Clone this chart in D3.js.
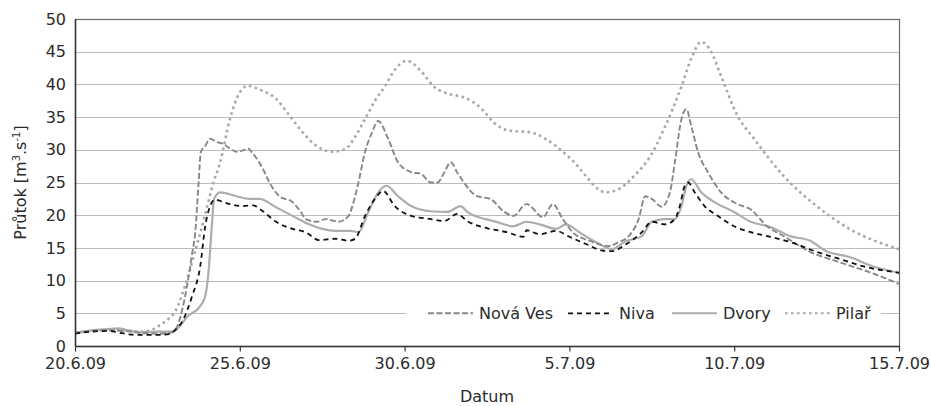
<!DOCTYPE html>
<html>
<head>
<meta charset="utf-8">
<script src="https://cdn.jsdelivr.net/npm/d3@7"></script>
<style>
    body { margin: 0; background: #fff; }
    text { font-family: "DejaVu Sans", sans-serif; fill: #2b2b2b; }
    .grid line { stroke: #bdbdbd; stroke-width: 1; }
</style>
</head>
<body>
<script>
(function(){

    //x tick labels (day offsets from 20.6.09)
    var tickDays = [0, 5, 10, 15, 20, 25];
    var tickLabels = ["20.6.09", "25.6.09", "30.6.09", "5.7.09", "10.7.09", "15.7.09"];
    var yTicks = [0, 5, 10, 15, 20, 25, 30, 35, 40, 45, 50];

    //series: [day offset, discharge m3/s]
    var novaVes = [[0,2.0],[0.5,2.3],[1.0,2.4],[1.5,2.3],[2.0,2.0],[2.5,1.9],[2.9,2.0],[3.1,3.0],[3.25,5.5],[3.4,9.2],[3.55,14.0],[3.65,17.5],[3.75,25],[3.82,29.7],[3.95,30.6],[4.1,31.7],[4.3,31.2],[4.5,30.9],[4.7,30.2],[4.9,29.7],[5.1,29.9],[5.25,30.2],[5.4,29.4],[5.7,27.1],[5.9,25.0],[6.2,22.9],[6.6,22.0],[6.85,20.5],[7.0,19.4],[7.35,19.0],[7.6,19.4],[8.0,19.0],[8.3,19.9],[8.45,22],[8.6,25],[8.8,29.7],[9.0,32.5],[9.2,34.4],[9.5,31.7],[9.8,28.1],[10.2,26.6],[10.5,26.3],[10.8,25.0],[11.0,25.0],[11.2,26.5],[11.4,28.1],[11.6,26.5],[11.8,25.0],[12.2,22.9],[12.6,22.5],[13.0,20.6],[13.3,19.9],[13.7,21.7],[14.2,19.7],[14.5,21.7],[14.8,19.4],[15.1,17.4],[15.6,16.1],[16.2,15.3],[16.5,15.9],[16.8,16.8],[17.1,19.4],[17.3,22.9],[17.5,22.5],[17.8,21.3],[18.05,23.5],[18.2,28.1],[18.4,34.7],[18.55,36.2],[18.7,33.6],[18.9,29.7],[19.2,26.6],[19.6,23.5],[20.1,21.7],[20.5,20.9],[21.0,18.3],[21.5,16.8],[22.3,14.4],[23.2,12.8],[24.1,11.3],[25,9.5]];
    var niva = [[0,1.9],[0.5,2.2],[1.0,2.3],[1.3,2.1],[1.6,1.8],[2.0,1.7],[2.5,1.7],[2.9,1.9],[3.05,2.5],[3.25,3.7],[3.55,7.6],[3.8,12.2],[3.95,18.3],[4.1,21.4],[4.25,22.4],[4.5,22.0],[4.7,21.7],[5.1,21.4],[5.4,21.5],[5.7,20.6],[6.1,19.0],[6.6,17.9],[7.0,17.4],[7.4,16.2],[7.9,16.4],[8.3,16.1],[8.5,16.4],[8.8,19.9],[9.1,22.5],[9.35,23.7],[9.7,21.4],[10.2,19.9],[10.8,19.4],[11.2,19.1],[11.6,20.2],[11.9,19.1],[12.35,18.2],[12.6,17.9],[13.1,17.4],[13.6,16.7],[13.7,17.7],[14.1,17.1],[14.6,17.6],[15.0,16.7],[15.5,15.6],[16.0,14.6],[16.3,14.5],[16.7,15.5],[17.2,17.4],[17.5,19.0],[17.9,18.6],[18.2,19.4],[18.35,21.4],[18.5,24.5],[18.6,25.0],[18.8,23.5],[19.1,21.4],[19.5,19.9],[20.0,18.3],[20.5,17.4],[21.1,16.7],[21.7,15.9],[22.5,14.4],[23.2,13.3],[23.9,12.2],[25,11.2]];
    var dvory = [[0,2.0],[0.5,2.4],[1.0,2.6],[1.3,2.7],[1.7,2.3],[2.0,2.1],[2.5,2.2],[2.9,2.2],[3.05,2.4],[3.43,4.6],[3.8,6.1],[3.95,7.6],[4.05,11.3],[4.15,18.3],[4.22,22.5],[4.4,23.5],[4.9,22.9],[5.3,22.5],[5.6,22.5],[6.1,21.2],[6.6,19.9],[7.1,18.6],[7.5,17.9],[7.9,17.6],[8.35,17.6],[8.6,17.4],[8.9,20.5],[9.2,23.5],[9.45,24.5],[9.8,22.9],[10.2,21.4],[10.8,20.6],[11.3,20.5],[11.7,21.4],[11.9,20.5],[12.45,19.4],[12.7,19.1],[13.3,18.3],[13.7,19.0],[14.1,18.6],[14.6,17.9],[14.9,18.6],[15.3,17.4],[15.8,15.9],[16.3,14.8],[16.7,16.0],[17.2,16.8],[17.5,19.0],[17.9,19.4],[18.2,19.4],[18.4,21.4],[18.55,24.5],[18.7,25.5],[19.0,23.5],[19.4,22.0],[20.0,20.5],[20.5,19.0],[21.1,18.2],[21.7,16.8],[22.3,16.1],[22.8,14.5],[23.5,13.6],[24.2,12.2],[25,11.2]];
    var pilar = [[0,2.0],[0.5,2.3],[1.0,2.5],[1.5,2.4],[2.0,2.2],[2.3,2.4],[2.52,3.0],[2.8,4.0],[3.03,5.2],[3.34,9.2],[3.64,14.4],[3.94,19.9],[4.2,25],[4.4,28],[4.7,34.7],[5.0,38.8],[5.25,39.8],[5.6,39.2],[6.1,37.8],[6.5,35.3],[6.9,32.7],[7.3,30.7],[7.8,29.7],[8.2,30.1],[8.5,32.0],[8.8,34.7],[9.1,37.5],[9.4,39.7],[9.7,42.2],[10.07,43.6],[10.5,42.0],[10.9,39.6],[11.3,38.6],[11.74,38.1],[12.05,37.4],[12.35,36.2],[12.7,34.2],[13.2,32.9],[13.8,32.7],[14.3,31.6],[14.8,29.7],[15.2,27.8],[15.5,26.0],[15.8,24.3],[16.1,23.5],[16.5,24.0],[17.0,26.2],[17.4,28.6],[17.9,33.5],[18.4,39.7],[18.7,44.0],[19.0,46.5],[19.3,45.0],[19.6,41.3],[20.1,35.2],[20.6,31.7],[21.5,26.0],[22.5,21.4],[23.5,17.9],[25,14.8]];

    var seriesNames = ["Nová Ves", "Niva", "Dvory", "Pilař"];

    window.onload = function(){
        setChart();
    };

    function setChart(){
        var width = 931,
            height = 406,
            left = 75, right = 899, top = 19, bottom = 346;

        var svg = d3.select("body")
            .append("svg")
            .attr("width", width)
            .attr("height", height);

        var x = d3.scaleLinear().domain([0, 25]).range([left, right]);
        var y = d3.scaleLinear().domain([0, 50]).range([bottom, top]);

        //line styles per series
        var styles = [
            {data: novaVes, color: "#888888", w: 1.9, dash: "6,2.5"},
            {data: niva, color: "#111", w: 1.8, dash: "5,4"},
            {data: dvory, color: "#adadad", w: 2.2, dash: null},
            {data: pilar, color: "#a8a8a8", w: 2.6, dash: "2.6,3.4"}
        ];

        //horizontal gridlines
        svg.append("g")
            .attr("class", "grid")
            .selectAll("line")
            .data(yTicks.slice(1, -1))
            .enter()
            .append("line")
            .attr("x1", left)
            .attr("x2", right)
            .attr("y1", function(d){ return Math.round(y(d)) + 0.5; })
            .attr("y2", function(d){ return Math.round(y(d)) + 0.5; });

        //series lines
        var line = d3.line()
            .x(function(d){ return x(d[0]); })
            .y(function(d){ return y(d[1]); })
            .curve(d3.curveMonotoneX);

        //draw from back to front: pilar, dvory, nova ves, niva
        [3, 2, 0, 1].forEach(function(i){
            var s = styles[i];
            svg.append("path")
                .datum(s.data)
                .attr("fill", "none")
                .attr("stroke", s.color)
                .attr("stroke-width", s.w)
                .attr("stroke-dasharray", s.dash)
                .attr("d", line);
        });

        //legend box, covers the 5 gridline
        var legY = y(5);
        svg.append("rect")
            .attr("x", 406)
            .attr("y", legY - 12)
            .attr("width", 475)
            .attr("height", 24)
            .attr("fill", "#fff");

        var legX = [428, 568, 672, 785];
        seriesNames.forEach(function(name, i){
            var s = styles[i];
            svg.append("line")
                .attr("x1", legX[i])
                .attr("x2", legX[i] + 45)
                .attr("y1", legY)
                .attr("y2", legY)
                .attr("stroke", s.color)
                .attr("stroke-width", Math.min(s.w, 2))
                .attr("stroke-dasharray", s.dash);
            svg.append("text")
                .attr("x", legX[i] + 51)
                .attr("y", legY + 6)
                .style("font-size", "16px")
                .text(name);
        });

        //frame
        svg.append("rect")
            .attr("x", left + 0.5)
            .attr("y", top + 0.5)
            .attr("width", right - left)
            .attr("height", bottom - top)
            .attr("fill", "none")
            .attr("stroke", "#6a6a6a")
            .attr("stroke-width", 1.2);
        svg.append("line")
            .attr("x1", left).attr("x2", right + 1)
            .attr("y1", bottom + 0.5).attr("y2", bottom + 0.5)
            .attr("stroke", "#333").attr("stroke-width", 1.5);
        svg.append("line")
            .attr("x1", left + 0.5).attr("x2", left + 0.5)
            .attr("y1", top).attr("y2", bottom)
            .attr("stroke", "#333").attr("stroke-width", 1.5);

        //x axis ticks and labels
        var xAxis = d3.axisBottom(x)
            .tickValues(tickDays)
            .tickSize(5)
            .tickFormat(function(d, i){ return tickLabels[i]; });
        var gx = svg.append("g")
            .attr("transform", "translate(0," + (bottom + 0.5) + ")")
            .call(xAxis);
        gx.select(".domain").remove();
        gx.selectAll(".tick line").attr("stroke", "#333").attr("stroke-width", 1.2);
        gx.selectAll(".tick text")
            .attr("y", 11)
            .style("font-size", "16px")
            .style("font-family", "DejaVu Sans, sans-serif")
            .attr("fill", "#2b2b2b");

        //y axis labels
        var yAxis = d3.axisLeft(y)
            .tickValues(yTicks)
            .tickSize(0)
            .tickPadding(9);
        var gy = svg.append("g")
            .attr("transform", "translate(" + left + ",0)")
            .call(yAxis);
        gy.select(".domain").remove();
        gy.selectAll(".tick text")
            .style("font-size", "16px")
            .style("font-family", "DejaVu Sans, sans-serif")
            .attr("fill", "#2b2b2b");

        //axis titles
        svg.append("text")
            .attr("x", (left + right) / 2)
            .attr("y", 402)
            .attr("text-anchor", "middle")
            .style("font-size", "16px")
            .text("Datum");

        var yTitle = svg.append("text")
            .attr("transform", "translate(26," + ((top + bottom) / 2) + ") rotate(-90)")
            .attr("text-anchor", "middle")
            .style("font-size", "16px");
        yTitle.append("tspan").text("Průtok [m");
        yTitle.append("tspan").attr("dy", -6).style("font-size", "10px").text("3");
        yTitle.append("tspan").attr("dy", 6).text(".s");
        yTitle.append("tspan").attr("dy", -6).style("font-size", "10px").text("-1");
        yTitle.append("tspan").attr("dy", 6).text("]");
    }

})();
</script>
</body>
</html>
